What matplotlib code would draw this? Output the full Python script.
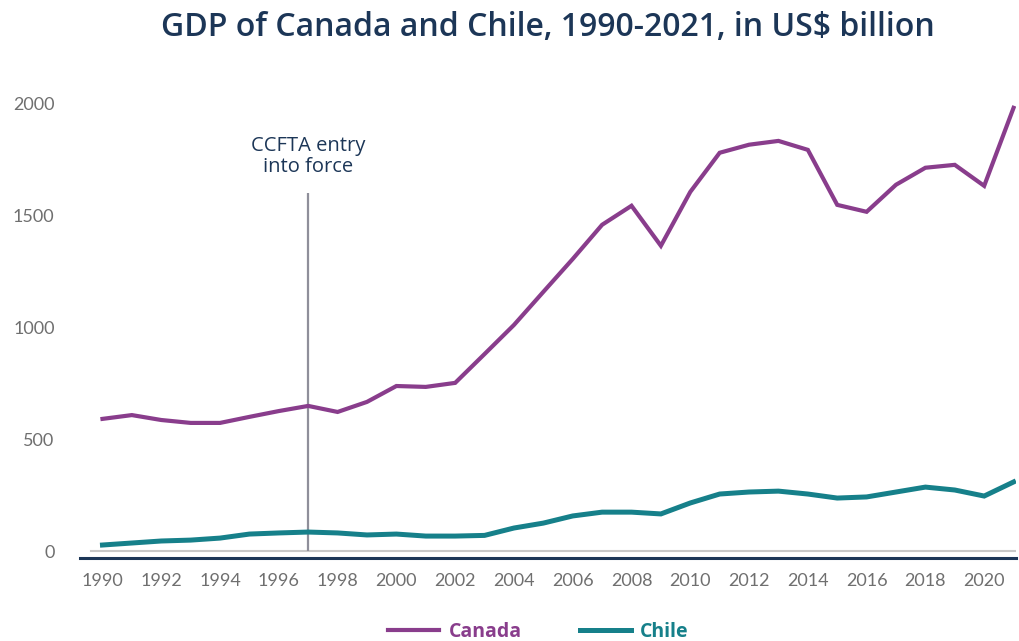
import matplotlib
matplotlib.use("Agg")
import matplotlib.pyplot as plt

years = list(range(1990, 2022))
canada = [591, 608, 586, 573, 573, 600, 626, 649, 622, 667,
          738, 734, 752, 881, 1011, 1159, 1306, 1459, 1544, 1365,
          1606, 1781, 1817, 1834, 1794, 1548, 1517, 1638, 1714, 1727,
          1633, 1982]
chile = [27, 36, 45, 49, 58, 76, 81, 85, 81, 72,
         76, 67, 67, 70, 103, 125, 157, 174, 174, 166,
         215, 255, 264, 268, 255, 237, 242, 264, 286, 273,
         246, 309]
ccfta_year = 1997
ccfta_label = "CCFTA entry\ninto force"
title = "GDP of Canada and Chile, 1990-2021, in US$ billion"

navy = "#1c3657"
purple = "#893d8c"
teal = "#16808a"
grey_txt = "#6f6f6f"

plt.rcParams['font.family'] = ['Lato', 'DejaVu Sans']
wide = ['Open Sans', 'DejaVu Sans']

fig = plt.figure(figsize=(10.2, 6.41), dpi=100)
ax = fig.add_axes([0.078, 0.1295, 0.918, 0.7365])

# zero line and the treaty marker
ax.axhline(0, color="#c8c8c8", lw=1.5, xmin=0.012, zorder=1)
ax.vlines(ccfta_year, 0, 1600, color="#8f8f9a", lw=1.6, zorder=1)
ax.text(ccfta_year, 1763, ccfta_label, ha="center", va="center",
        color=navy, fontsize=14.5, linespacing=1.05, family=wide,
        fontweight="medium")

ax.plot(years, canada, color=purple, lw=3.0, label="Canada", zorder=3,
        solid_joinstyle="miter")
ax.plot(years, chile, color=teal, lw=3.6, label="Chile", zorder=3,
        solid_joinstyle="miter")

ax.set_xlim(1989.22, 2021.08)
ax.set_ylim(-31, 2080)
ax.set_xticks(range(1990, 2021, 2))
ax.set_yticks([0, 500, 1000, 1500, 2000])
ax.tick_params(axis="both", length=0, labelsize=13, colors=grey_txt)
ax.tick_params(axis="x", pad=11)
ax.tick_params(axis="y", pad=18)

for s in ["top", "right", "left"]:
    ax.spines[s].set_visible(False)
ax.spines["bottom"].set_color(navy)
ax.spines["bottom"].set_linewidth(2.2)

fig.text(0.537, 0.957, title, ha="center", va="center",
         color=navy, fontsize=23, fontweight="semibold", family=wide)

leg = fig.legend(loc="center", bbox_to_anchor=(0.528, 0.014), ncol=2,
                 frameon=False, prop={'family': wide, 'size': 14,
                                      'weight': 'bold'},
                 handlelength=2.6, columnspacing=3.0, handletextpad=0.5,
                 labelcolor="linecolor")

fig.savefig("out.png", dpi=100)
